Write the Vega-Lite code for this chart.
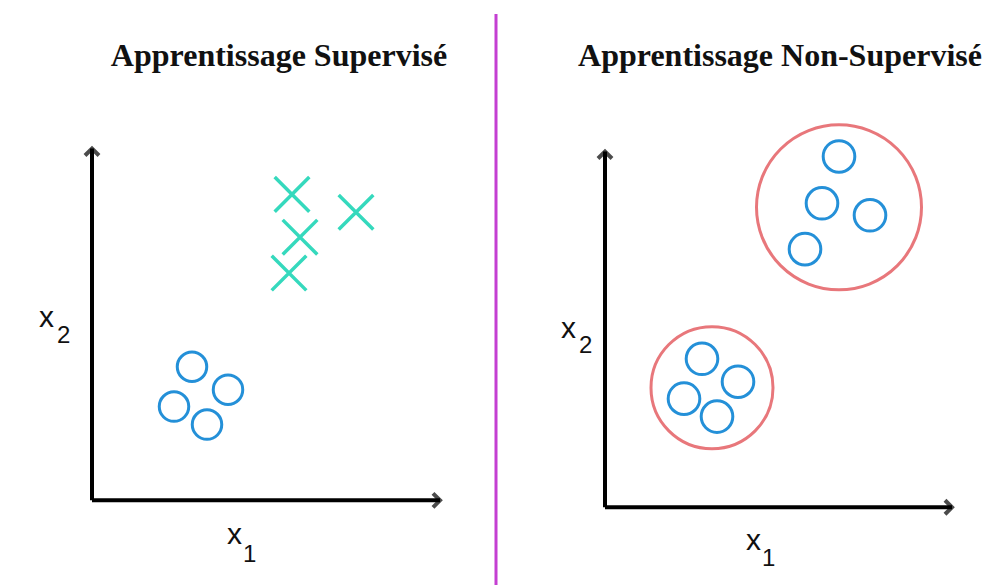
{
  "$schema": "https://vega.github.io/schema/vega-lite/v6.json",
  "width": 1006,
  "height": 587,
  "autosize": {"type": "fit", "contains": "padding"},
  "padding": 0,
  "background": "white",
  "config": {"view": {"stroke": null}},
  "datasets": {
    "points": [
      {"panel": "supervisé", "class": "A", "x": 192, "y": 368},
      {"panel": "supervisé", "class": "A", "x": 228, "y": 391},
      {"panel": "supervisé", "class": "A", "x": 174, "y": 408},
      {"panel": "supervisé", "class": "A", "x": 207, "y": 426},
      {"panel": "supervisé", "class": "B", "x": 292, "y": 195},
      {"panel": "supervisé", "class": "B", "x": 356, "y": 213},
      {"panel": "supervisé", "class": "B", "x": 300, "y": 238},
      {"panel": "supervisé", "class": "B", "x": 289, "y": 274},
      {"panel": "non-supervisé", "cluster": "C1", "x": 839, "y": 157},
      {"panel": "non-supervisé", "cluster": "C1", "x": 822, "y": 204},
      {"panel": "non-supervisé", "cluster": "C1", "x": 870, "y": 216},
      {"panel": "non-supervisé", "cluster": "C1", "x": 805, "y": 250},
      {"panel": "non-supervisé", "cluster": "C2", "x": 702, "y": 360},
      {"panel": "non-supervisé", "cluster": "C2", "x": 738, "y": 383},
      {"panel": "non-supervisé", "cluster": "C2", "x": 684, "y": 400},
      {"panel": "non-supervisé", "cluster": "C2", "x": 717, "y": 418}
    ],
    "clusters": [
      {"cluster": "C1", "x": 839, "y": 208, "r": 82.5},
      {"cluster": "C2", "x": 712, "y": 389, "r": 61}
    ],
    "axes": [
      {"panel": "supervisé", "axis": "x2", "x": 92, "y": 502, "xe": 92, "ye": 149},
      {"panel": "supervisé", "axis": "x1", "x": 92, "y": 502, "xe": 440, "ye": 502},
      {"panel": "non-supervisé", "axis": "x2", "x": 605, "y": 509, "xe": 605, "ye": 152},
      {"panel": "non-supervisé", "axis": "x1", "x": 605, "y": 509, "xe": 952, "ye": 509}
    ],
    "labels": [
      {"role": "title", "text": "Apprentissage Supervisé", "x": 279, "y": 66},
      {"role": "title", "text": "Apprentissage Non-Supervisé", "x": 780, "y": 66},
      {"role": "var", "text": "x", "x": 39, "y": 328},
      {"role": "sub", "text": "2", "x": 57, "y": 344},
      {"role": "var", "text": "x", "x": 227, "y": 546},
      {"role": "sub", "text": "1", "x": 243, "y": 564},
      {"role": "var", "text": "x", "x": 561, "y": 339},
      {"role": "sub", "text": "2", "x": 579, "y": 354},
      {"role": "var", "text": "x", "x": 746, "y": 552},
      {"role": "sub", "text": "1", "x": 762, "y": 568}
    ],
    "divider": [
      {"x": 496, "y": 14, "y2": 587}
    ]
  },
  "encoding": {
    "x": {"field": "x", "type": "quantitative", "scale": {"domain": [0, 1006], "nice": false, "zero": false}, "axis": null},
    "y": {"field": "y", "type": "quantitative", "scale": {"domain": [0, 587], "nice": false, "zero": false, "reverse": true}, "axis": null}
  },
  "layer": [
    {
      "data": {"name": "divider"},
      "mark": {"type": "rule", "color": "#c43fd2", "strokeWidth": 3},
      "encoding": {"y2": {"field": "y2"}}
    },
    {
      "data": {"name": "axes"},
      "mark": {"type": "rule", "color": "black", "strokeWidth": 4},
      "encoding": {"x2": {"field": "xe"}, "y2": {"field": "ye"}}
    },
    {
      "data": {"name": "axes"},
      "transform": [{"filter": "datum.axis === 'x2'"}],
      "mark": {"type": "point", "shape": "M-1,1L0,0L1,1", "filled": false, "stroke": "black", "strokeWidth": 4, "size": 196, "strokeJoin": "miter"},
      "encoding": {
        "x": {"field": "xe", "type": "quantitative"},
        "y": {"field": "ye", "type": "quantitative"}
      }
    },
    {
      "data": {"name": "axes"},
      "transform": [{"filter": "datum.axis === 'x1'"}],
      "mark": {"type": "point", "shape": "M-1,-1L0,0L-1,1", "filled": false, "stroke": "black", "strokeWidth": 4, "size": 196, "strokeJoin": "miter"},
      "encoding": {
        "x": {"field": "xe", "type": "quantitative"},
        "y": {"field": "ye", "type": "quantitative"}
      }
    },
    {
      "data": {"name": "clusters"},
      "mark": {"type": "point", "shape": "circle", "filled": false, "stroke": "#e8777b", "strokeWidth": 3, "opacity": 1},
      "encoding": {
        "size": {"field": "r", "type": "quantitative", "scale": {"type": "pow", "exponent": 2, "domain": [0, 100], "range": [0, 40000]}, "legend": null}
      }
    },
    {
      "data": {"name": "points"},
      "transform": [{"filter": "datum.class !== 'B'"}],
      "mark": {"type": "point", "shape": "circle", "filled": false, "stroke": "#2490d8", "strokeWidth": 3, "opacity": 1},
      "encoding": {
        "size": {"condition": {"test": "datum.panel === 'non-supervisé'", "value": 1000}, "value": 870}
      }
    },
    {
      "data": {"name": "points"},
      "transform": [{"filter": "datum.class === 'B'"}],
      "mark": {"type": "point", "shape": "M-1,-1L1,1M1,-1L-1,1", "filled": false, "stroke": "#35d9bd", "strokeWidth": 3.5, "size": 1200, "opacity": 1}
    },
    {
      "data": {"name": "labels"},
      "transform": [{"filter": "datum.role === 'title'"}],
      "mark": {"type": "text", "font": "Liberation Serif", "fontWeight": "bold", "fontSize": 32, "align": "center", "baseline": "alphabetic", "color": "#111111"},
      "encoding": {"text": {"field": "text"}}
    },
    {
      "data": {"name": "labels"},
      "transform": [{"filter": "datum.role === 'var'"}],
      "mark": {"type": "text", "font": "Liberation Sans", "fontSize": 30, "align": "left", "baseline": "alphabetic", "color": "#111111"},
      "encoding": {"text": {"field": "text"}}
    },
    {
      "data": {"name": "labels"},
      "transform": [{"filter": "datum.role === 'sub'"}],
      "mark": {"type": "text", "font": "Liberation Sans", "fontSize": 24, "align": "left", "baseline": "alphabetic", "color": "#111111"},
      "encoding": {"text": {"field": "text"}}
    }
  ]
}
